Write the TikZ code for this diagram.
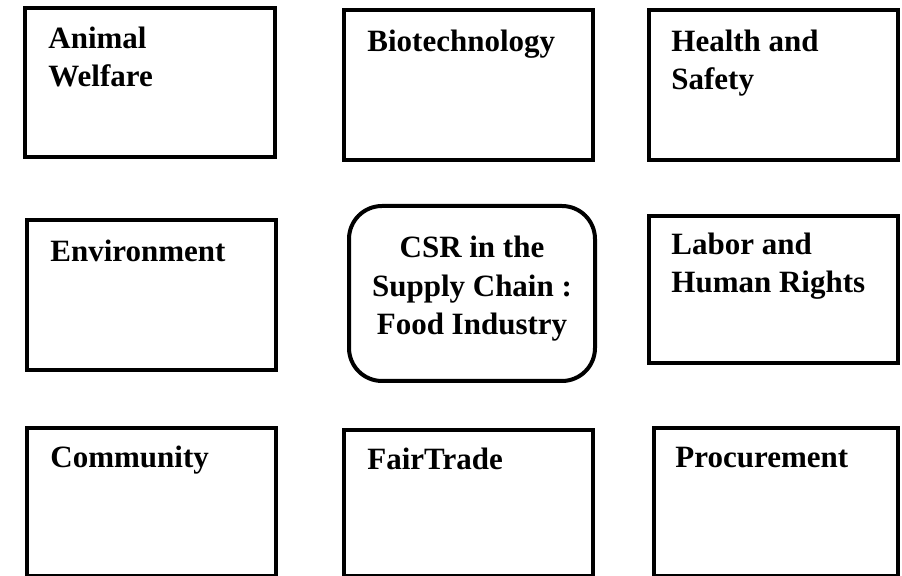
\documentclass[tikz,border=0pt]{standalone}
\usepackage{fontspec}
\setmainfont{Liberation Serif}
\usetikzlibrary{fit}

\begin{document}
\begin{tikzpicture}[x=0.5pt,y=-0.5pt,
  issue/.style={draw, line width=2pt, inner sep=0pt},
  hub/.style={issue, rounded corners=16.5pt},
  tag/.style={anchor=base west, inner sep=0pt, align=left,
    font=\bfseries\fontsize{15.5}{19.25}\selectfont},
  hubtag/.style={tag, anchor=base, align=center}]

% Page
\useasboundingbox (0,0) rectangle (902,576);

% Top row (base = last line)
\node[issue, fit={(25,8) (275,157)}] (welfare) {};
\node[issue, fit={(344,10) (593,160)}] (biotech) {};
\node[issue, fit={(649,10) (898,160)}] (health) {};
\node[tag] (welfaretxt) at (48,87) {Animal\\Welfare};
\node[tag] (biotechtxt) at (367,52) {Biotechnology};
\node[tag] (healthtxt) at (671,90) {Health and\\Safety};

% Middle row
\node[issue, fit={(27,220) (276,370)}] (environ) {};
\node[hub, fit={(349,206) (595,381)}] (csr) {};
\node[issue, fit={(649,216) (898,363)}] (labor) {};
\node[tag] (environtxt) at (50,262) {Environment};
\node[hubtag] (csrtxt) at (472,335) {CSR in the\\Supply Chain :\\Food Industry};
\node[tag] (labortxt) at (671,293) {Labor and\\Human Rights};

% Bottom row
\node[issue, fit={(27,428) (276,576)}] (community) {};
\node[issue, fit={(344,430) (593,576)}] (fairtrade) {};
\node[issue, fit={(654,428) (898,576)}] (procure) {};
\node[tag] (communitytxt) at (50,468) {Community};
\node[tag] (fairtradetxt) at (367,470) {FairTrade};
\node[tag] (procuretxt) at (675,468) {Procurement};

\end{tikzpicture}
\end{document}
